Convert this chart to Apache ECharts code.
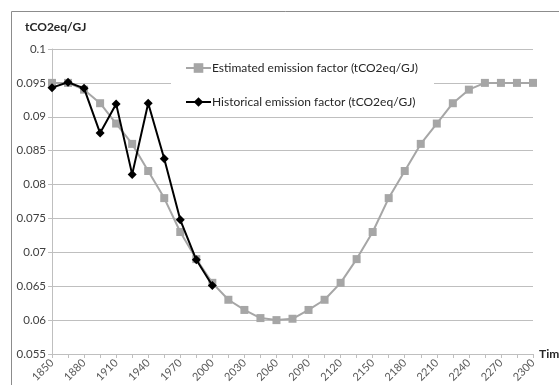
<!DOCTYPE html>
<html>
<head>
<meta charset="utf-8">
<script src="https://cdn.jsdelivr.net/npm/echarts@6/dist/echarts.min.js"></script>
<style>
html,body{margin:0;padding:0;background:#fff;}
#main{width:559px;height:385px;}
</style>
</head>
<body>
<div id="main"></div>
<script>
var years = [1850,1865,1880,1895,1910,1925,1940,1955,1970,1985,2000,2015,2030,2045,2060,2075,2090,2105,2120,2135,2150,2165,2180,2195,2210,2225,2240,2255,2270,2285,2300];
var estimated = [0.095,0.095,0.094,0.092,0.089,0.086,0.082,0.078,0.073,0.069,0.0655,0.063,0.0615,0.0603,0.060,0.0602,0.0615,0.063,0.0655,0.069,0.073,0.078,0.082,0.086,0.089,0.092,0.094,0.095,0.095,0.095,0.095];
var historical = [0.0943,0.0951,0.0942,0.0876,0.0919,0.0815,0.092,0.0838,0.0748,0.0689,0.0651];
var yTicks = [0.055,0.06,0.065,0.07,0.075,0.08,0.085,0.09,0.095,0.1];

var FONT = 'Lato';
var chart = echarts.init(document.getElementById('main'));
chart.setOption({
  animation: false,
  backgroundColor: '#fff',
  textStyle: {fontFamily: FONT},
  graphic: [
    {type: 'rect', shape: {x: 11.5, y: 11.5, width: 600, height: 600},
     style: {fill: null, stroke: '#8c8c8c', lineWidth: 1}, z: -1},
    {type: 'text', left: 25, top: 21,
     style: {text: 'tCO2eq/GJ', font: 'bold 12px ' + FONT, fill: '#262626'}}
  ],
  grid: {left: 52, right: 26, top: 49, bottom: 31, containLabel: false, outerBoundsMode: 'none'},
  legend: {
    orient: 'vertical',
    left: 171, top: 58,
    padding: [4, 16, 4, 14],
    itemGap: 22,
    itemWidth: 25, itemHeight: 12,
    backgroundColor: '#fff',
    textStyle: {fontFamily: FONT, fontSize: 12, color: '#262626', padding: [0,0,0,-4]},
    data: [
      'Estimated emission factor (tCO2eq/GJ)',
      'Historical emission factor (tCO2eq/GJ)'
    ]
  },
  xAxis: {
    type: 'category',
    data: years,
    boundaryGap: false,
    name: 'Time',
    nameLocation: 'end',
    nameGap: 4,
    nameTextStyle: {fontFamily: FONT, fontSize: 12, fontWeight: 'bold', color: '#262626', verticalAlign: 'middle'},
    axisLine: {lineStyle: {color: '#bfbfbf', width: 1}},
    axisTick: {show: true, interval: 0, length: 4, lineStyle: {color: '#bfbfbf'}},
    axisLabel: {interval: 1, rotate: 45, fontSize: 11, color: '#595959', fontFamily: FONT, margin: 7},
    splitLine: {show: false}
  },
  yAxis: {
    type: 'value',
    min: 0.055, max: 0.1, interval: 0.005,
    axisLine: {show: true, lineStyle: {color: '#bfbfbf', width: 1}},
    axisTick: {show: true, length: 4, inside: false, lineStyle: {color: '#bfbfbf'}},
    axisLabel: {fontSize: 11.5, color: '#404040', fontFamily: FONT, margin: 6,
      formatter: function (v) {
        var r = Math.round(v * 1000) / 1000;
        for (var i = 0; i < yTicks.length; i++) { if (Math.abs(yTicks[i] - v) < 1e-9) r = yTicks[i]; }
        return String(r);
      }},
    splitLine: {show: true, lineStyle: {color: '#bfbfbf', width: 1}}
  },
  series: [
    {
      name: 'Estimated emission factor (tCO2eq/GJ)',
      type: 'line',
      data: estimated,
      symbol: 'rect',
      symbolSize: 8,
      showAllSymbol: true,
      lineStyle: {color: '#a6a6a6', width: 2},
      itemStyle: {color: '#a6a6a6'},
      z: 2
    },
    {
      name: 'Historical emission factor (tCO2eq/GJ)',
      type: 'line',
      data: historical,
      symbol: 'diamond',
      symbolSize: 9,
      showAllSymbol: true,
      lineStyle: {color: '#000', width: 2},
      itemStyle: {color: '#000'},
      z: 3
    }
  ]
});
</script>
</body>
</html>
